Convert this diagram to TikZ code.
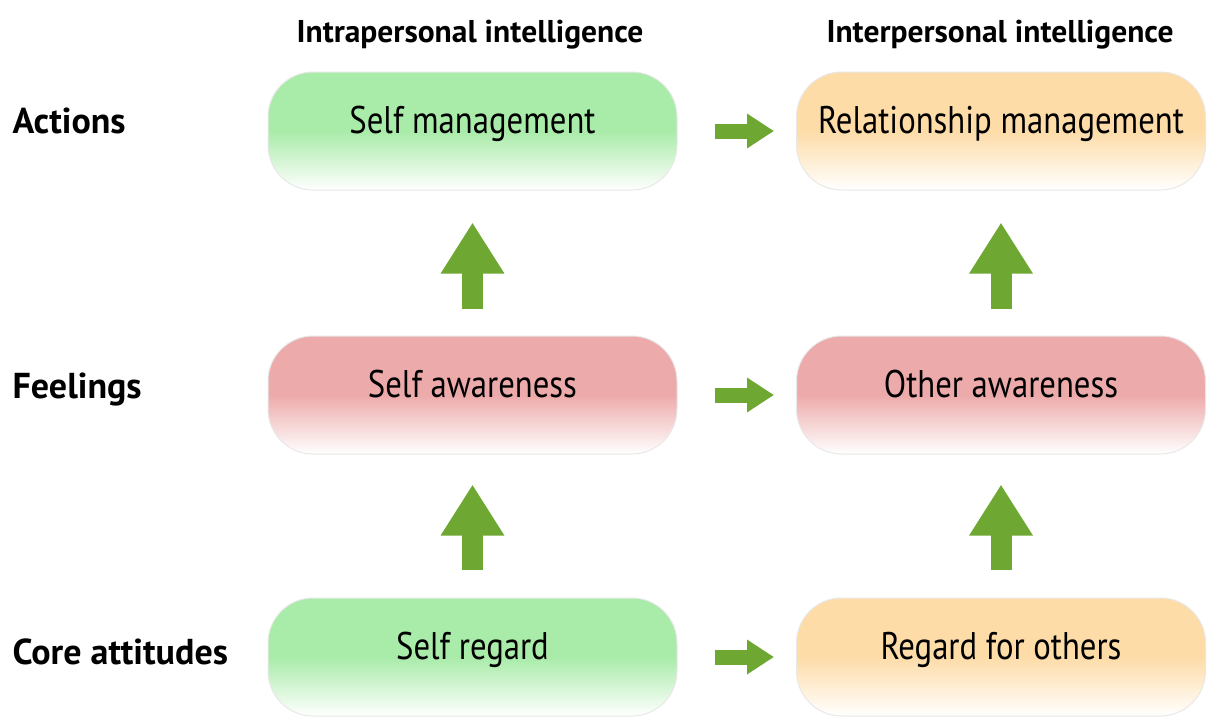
\documentclass[tikz,border=0pt]{standalone}
\usepackage{fontspec}
\setmainfont{PT Sans}
\newfontfamily\boxfont[FakeStretch=0.85]{PT Sans}
\usepackage{xcolor}
\usetikzlibrary{arrows.meta,positioning}

\definecolor{greentop}{HTML}{A9EBA9}
\definecolor{peachtop}{HTML}{FDDCA8}
\definecolor{pinktop}{HTML}{EDAAAA}
\definecolor{arrowgreen}{HTML}{6EA832}

\tikzset{
  box/.style={rounded corners=45pt, minimum width=409pt, minimum height=118pt,
    draw=black!9, line width=1pt, inner sep=0pt,
    font=\boxfont\fontsize{38.5}{44}\selectfont, text height=28pt, text depth=23pt,
    top color=#1, bottom color=white, middle color=#1},
  rowlabel/.style={anchor=base west, font=\bfseries\fontsize{36}{40}\selectfont},
  colhead/.style={anchor=base, font=\bfseries\fontsize{31.5}{34}\selectfont},
  uparrow/.style={arrowgreen, line width=21pt, -{Triangle[width=60pt,length=51pt]}},
  rightarrow/.style={arrowgreen, line width=15pt, -{Triangle[width=33pt,length=27pt]},
    shorten <=37pt, shorten >=22pt}
}

\begin{document}
\begin{tikzpicture}[x=1pt,y=-1pt]
  \useasboundingbox (0,0) rectangle (1208,718);
  % column headers
  \node[colhead] (intra) at (470,42) {Intrapersonal intelligence};
  \node[colhead] (inter) at (1000,42) {Interpersonal intelligence};
  % row labels
  \node[rowlabel] (actions) at (9,133) {Actions};
  \node[rowlabel] (feelings) at (9,398) {Feelings};
  \node[rowlabel] (core) at (9,664) {Core attitudes};
  % boxes
  \node[box=greentop] (selfman) at (472.5,131) {Self management};
  \node[box=peachtop] (relman) at (1001,131) {Relationship management};
  \node[box=pinktop] (selfaw) at (472.5,395) {Self awareness};
  \node[box=pinktop] (otheraw) at (1001,395) {Other awareness};
  \node[box=greentop] (selfreg) at (472.5,657) {Self regard};
  \node[box=peachtop] (regoth) at (1001,657) {Regard for others};
  % up arrows
  \draw[uparrow, shorten <=27pt, shorten >=32pt] (selfaw.north) -- (selfman.south);
  \draw[uparrow, shorten <=27pt, shorten >=32pt] (otheraw.north) -- (relman.south);
  \draw[uparrow, shorten <=28pt, shorten >=30pt] (selfreg.north) -- (selfaw.south);
  \draw[uparrow, shorten <=28pt, shorten >=30pt] (regoth.north) -- (otheraw.south);
  % right arrows
  \draw[rightarrow] (selfman.east) -- (relman.west);
  \draw[rightarrow] (selfaw.east) -- (otheraw.west);
  \draw[rightarrow] (selfreg.east) -- (regoth.west);
\end{tikzpicture}
\end{document}
